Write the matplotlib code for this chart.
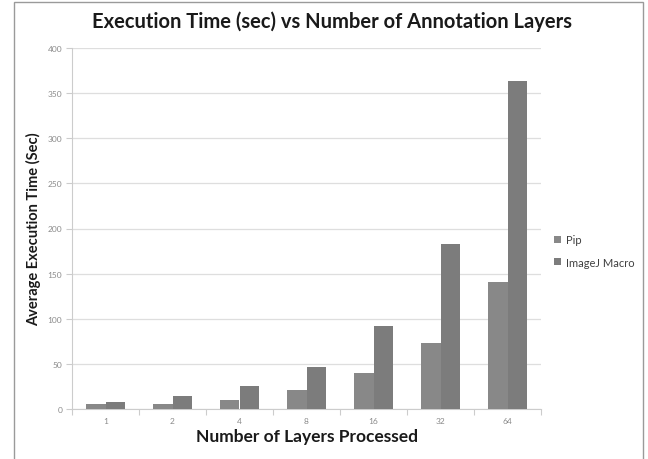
import matplotlib
matplotlib.use("Agg")
import matplotlib.pyplot as plt
import numpy as np
from matplotlib.patches import Rectangle

categories = ["1", "2", "4", "8", "16", "32", "64"]
pip = [5, 6, 9.5, 21, 39.5, 73.5, 141]
imagej = [8, 14.5, 25.5, 47, 92, 183, 363]
series_names = ["Pip", "ImageJ Macro"]
yticks = [0, 50, 100, 150, 200, 250, 300, 350, 400]

plt.rcParams['font.family'] = ['Lato', 'DejaVu Sans']

fig = plt.figure(figsize=(6.48, 4.60), dpi=100)
W, H = 648, 460
ax = fig.add_axes([72 / W, 1 - 410 / H, 469 / W, 361 / H])

x = np.arange(len(categories))
bw = 0.285
ax.bar(x - bw / 2, pip, width=bw, color="#888888", label=series_names[0], zorder=3)
ax.bar(x + bw / 2, imagej, width=bw, color="#7c7c7c", label=series_names[1], zorder=3)

ax.set_xlim(-0.5, len(categories) - 0.5)
ax.set_ylim(0, 400)
ax.set_yticks(yticks)
ax.set_yticklabels([str(v) for v in yticks], fontsize=6, color="#8a8a8a")
ax.set_xticks(x)
ax.set_xticklabels(categories, fontsize=6, color="#8a8a8a")
ax.set_xticks(np.arange(-0.5, len(categories)), minor=True)
ax.tick_params(axis='x', which='major', length=0, pad=6)
ax.tick_params(axis='x', which='minor', length=4, color="#cccccc", width=0.8)
ax.tick_params(axis='y', length=4, color="#cccccc", width=0.8, pad=3)
ax.grid(axis='y', color="#dedede", linewidth=0.9, zorder=0)
for s in ["top", "right"]:
    ax.spines[s].set_visible(False)
ax.spines["left"].set_color("#cccccc")
ax.spines["bottom"].set_color("#cccccc")

ax.set_xlabel("Number of Layers Processed", fontsize=12.5, fontweight='bold', color="#1a1a1a", labelpad=3)
ax.set_ylabel("Average Execution Time (Sec)", fontsize=10.5, fontweight='bold', color="#1a1a1a", labelpad=5)

fig.text(332 / W, 1 - 22 / H, "Execution Time (sec) vs Number of Annotation Layers",
         ha='center', va='center', fontsize=14.5, fontweight='bold', color="#1a1a1a")

leg = ax.legend(loc='center left', bbox_to_anchor=(550 / W, 1 - 252 / H), bbox_transform=fig.transFigure,
                frameon=False, fontsize=8, handlelength=0.6, handleheight=0.6, handletextpad=0.4,
                labelspacing=1.0, borderaxespad=0)
for t in leg.get_texts():
    t.set_color("#404040")

fig.patches.append(Rectangle((14 / W, -0.1), (643 - 14) / W, (1.1 - 3 / H), transform=fig.transFigure,
                             fill=False, edgecolor="#9a9a9a", linewidth=1.0))

fig.savefig("out.png", dpi=100)
